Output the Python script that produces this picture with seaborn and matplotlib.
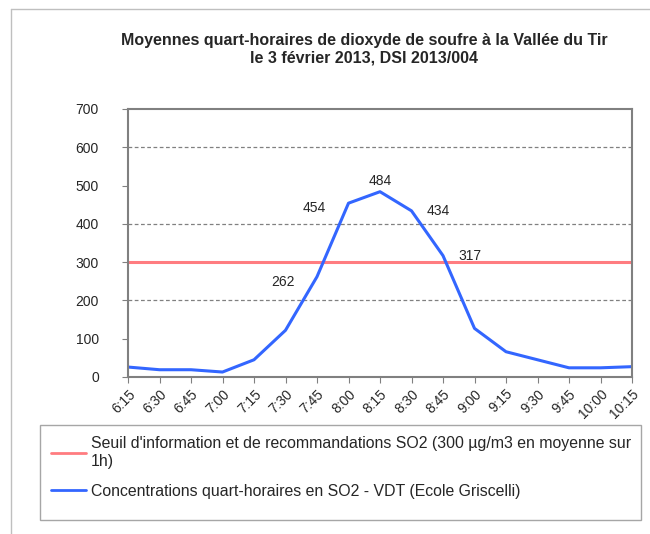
import matplotlib.pyplot as plt
from matplotlib.lines import Line2D
from matplotlib.patches import Rectangle
import pandas as pd
import seaborn as sns

# Data
times = ['6:15', '6:30', '6:45', '7:00', '7:15', '7:30', '7:45', '8:00', '8:15',
         '8:30', '8:45', '9:00', '9:15', '9:30', '9:45', '10:00', '10:15']
so2 = [26, 19, 19, 13, 45, 122, 262, 454, 484, 434, 317, 127, 66, 45, 24, 24, 27]
threshold = 300
labelled = {'7:45': 'left', '8:00': 'left', '8:15': 'top', '8:30': 'right', '8:45': 'right'}

label_threshold = "Seuil d'information et de recommandations SO2 (300 µg/m3 en moyenne sur\n1h)"
label_so2 = 'Concentrations quart-horaires en SO2 - VDT (Ecole Griscelli)'

df = pd.DataFrame({'time': times, 'so2': so2, 'seuil': [threshold] * len(times)})

sns.set_style('white')
plt.rcParams['font.family'] = ['Liberation Sans', 'DejaVu Sans']

fig = plt.figure(figsize=(6.5, 5.34), dpi=100)
ax = fig.add_axes([128 / 650, 1 - 377 / 534, 504 / 650, 268 / 534])

red = '#FF7C80'
blue = '#3366FF'

sns.lineplot(data=df, x='time', y='seuil', ax=ax, color=red, linewidth=2.2, sort=False)
sns.lineplot(data=df, x='time', y='so2', ax=ax, color=blue, linewidth=2.2, sort=False)

ax.set_xlim(0, len(times) - 1)
ax.set_ylim(0, 700)
ax.set_yticks(range(0, 701, 100))
ax.set_xticks(range(len(times)))
ax.set_xticklabels(times, rotation=45, ha='right', rotation_mode='anchor', fontsize=10)
ax.tick_params(axis='y', labelsize=10, length=4, color='#808080', direction='out', left=True, pad=17)
ax.tick_params(axis='x', length=4, color='#808080', direction='out', bottom=True, pad=3)
ax.set_xlabel('')
ax.set_ylabel('')

for y in (200, 400, 600):
    ax.axhline(y, color='#808080', linestyle=(0, (3, 2)), linewidth=0.9, zorder=0)

for s in ax.spines.values():
    s.set_color('#808080')
    s.set_linewidth(1.5)

# data labels
offsets = {'left': (-34, -5), 'top': (0, 11), 'right': (27, 0)}
for t, pos in labelled.items():
    i = times.index(t)
    ax.annotate(str(so2[i]), (i, so2[i]), xytext=offsets[pos], textcoords='offset pixels',
                ha='center', va='center', fontsize=10)

fig.suptitle('Moyennes quart-horaires de dioxyde de soufre à la Vallée du Tir\nle 3 février 2013, DSI 2013/004',
             x=0.56, y=1 - 33 / 534, fontsize=11.5, fontweight='bold', linespacing=1.2)

# legend
handles = [Line2D([], [], color=red, linewidth=2), Line2D([], [], color=blue, linewidth=2)]
fig.patches.append(Rectangle((40 / 650, 1 - 520 / 534), 601 / 650, 95 / 534,
                             transform=fig.transFigure, facecolor='white',
                             edgecolor='#A6A6A6', linewidth=1))
fig.legend(handles, [label_threshold, label_so2], loc='upper left',
           bbox_to_anchor=(37 / 650, 1 - 422 / 534), frameon=False, fontsize=11.4,
           handlelength=2.2, handletextpad=0.3, labelspacing=0.95)

# outer chart border
fig.add_artist(Line2D([11 / 650, 11 / 650], [0, 1 - 9 / 534], color='#BFBFBF', linewidth=1,
                      transform=fig.transFigure))
fig.add_artist(Line2D([11 / 650, 1], [1 - 9 / 534, 1 - 9 / 534], color='#BFBFBF', linewidth=1,
                      transform=fig.transFigure))

fig.savefig('out.png', dpi=100)
